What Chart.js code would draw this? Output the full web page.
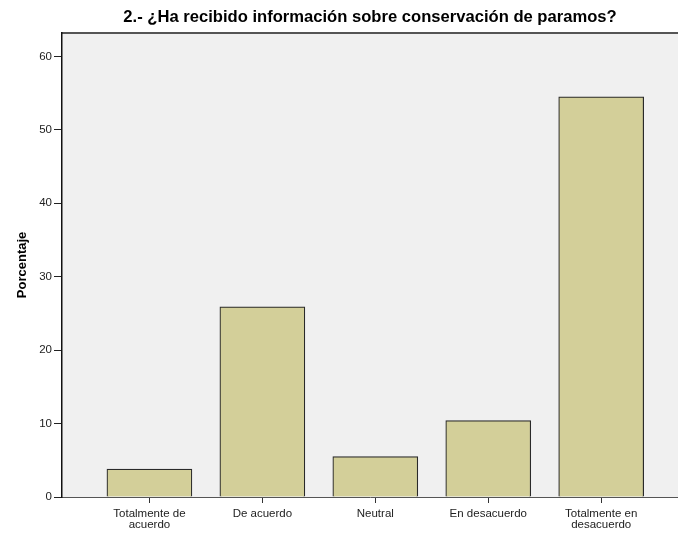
<!DOCTYPE html>
<html>
<head>
<meta charset="utf-8">
<script src="https://cdn.jsdelivr.net/npm/chart.js@4"></script>
<style>
  html, body { margin: 0; padding: 0; background: #ffffff; }
  #wrap { width: 678px; height: 534px; }
</style>
</head>
<body>
<div id="wrap"><canvas id="myChart" width="678" height="534"></canvas></div>
<script>
var categories = [
    ['Totalmente de', 'acuerdo'],
    'De acuerdo',
    'Neutral',
    'En desacuerdo',
    ['Totalmente en', 'desacuerdo']
];
var porcentaje = [3.8, 25.9, 5.5, 10.4, 54.5];
var yTicks = [0, 10, 20, 30, 40, 50, 60];

var points = porcentaje.map(function (v, i) { return { x: i, y: v }; });

// fondo gris del area de trazado y borde superior
var plotBg = {
    id: 'plotBg',
    beforeDraw: function (chart) {
        var a = chart.chartArea, c = chart.ctx;
        c.save();
        c.fillStyle = '#f0f0f0';
        c.fillRect(a.left, a.top, a.right - a.left, a.bottom - a.top);
        c.strokeStyle = '#555555';
        c.lineWidth = 2;
        c.beginPath();
        c.moveTo(a.left, a.top);
        c.lineTo(a.right, a.top);
        c.stroke();
        c.restore();
    }
};

var ctx = document.getElementById('myChart').getContext('2d');
var myChart = new Chart(ctx, {
    type: 'bar',
    data: {
        datasets: [{
            data: points,
            backgroundColor: '#d3cf99',
            borderColor: '#2a2a2a',
            borderWidth: 1.2,
            barThickness: 85
        }]
    },
    options: {
        responsive: false,
        animation: false,
        layout: { padding: 0 },
        plugins: {
            legend: { display: false },
            tooltip: { enabled: false },
            title: {
                display: true,
                fullSize: false,
                text: '2.- ¿Ha recibido información sobre conservación de paramos?',
                color: '#000000',
                font: { family: "'Liberation Sans', Arial, sans-serif", size: 16.6, weight: 'bold', lineHeight: 1.2 },
                padding: { top: 7, bottom: 6 }
            }
        },
        scales: {
            x: {
                type: 'linear',
                offset: false,
                min: -0.774,
                max: 4.68,
                afterBuildTicks: function (scale) {
                    scale.ticks = categories.map(function (c, i) { return { value: i }; });
                },
                afterFit: function (scale) { scale.height = 37; },
                ticks: {
                    autoSkip: false,
                    maxRotation: 0,
                    padding: 5,
                    color: '#222222',
                    font: { family: "'Liberation Sans', Arial, sans-serif", size: 11.5, lineHeight: 0.95 },
                    callback: function (v) { return categories[v]; }
                },
                grid: { offset: false, drawOnChartArea: false, drawTicks: true, tickLength: 6, color: '#333333' },
                border: { display: true, color: '#555555', width: 1 }
            },
            y: {
                min: 0,
                max: 63.2,
                afterBuildTicks: function (scale) {
                    scale.ticks = yTicks.map(function (t) { return { value: t }; });
                },
                afterFit: function (scale) { scale.width = 62; },
                ticks: {
                    padding: 2,
                    color: '#222222',
                    font: { family: "'Liberation Sans', Arial, sans-serif", size: 11.5 }
                },
                grid: { drawOnChartArea: false, drawTicks: true, tickLength: 8, color: '#222222' },
                border: { display: true, color: '#111111', width: 1.5 },
                title: {
                    display: true,
                    text: 'Porcentaje',
                    color: '#000000',
                    font: { family: "'Liberation Sans', Arial, sans-serif", size: 13, weight: 'bold' },
                    padding: { top: 15, bottom: 4 }
                }
            }
        }
    },
    plugins: [plotBg]
});
</script>
</body>
</html>
